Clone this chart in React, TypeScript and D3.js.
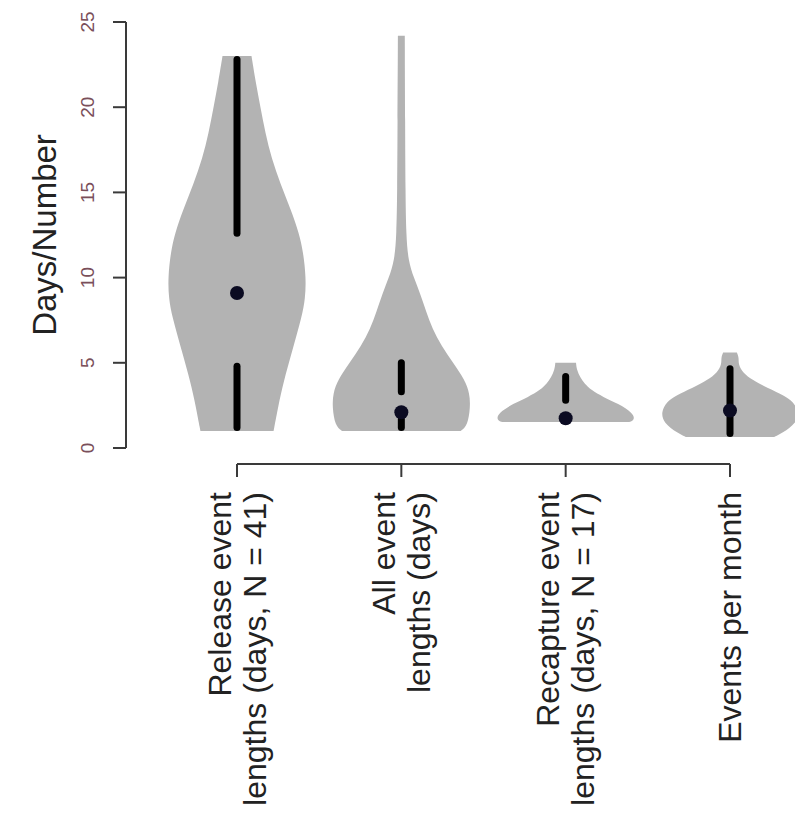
import React, { useEffect, useRef } from "react";
import * as d3 from "d3";

const categories = [
  ["Release event", "lengths (days, N = 41)"],
  ["All event", "lengths (days)"],
  ["Recapture event", "lengths (days, N = 17)"],
  ["Events per month"],
];

// violin outlines: [value, relative half width]
const releaseDensity = [
  [1.0, 0.53], [2.5, 0.6], [3.8, 0.67], [5.7, 0.8], [7.7, 0.94], [8.8, 0.99],
  [10.0, 1.0], [11.5, 0.96], [12.6, 0.9], [14.0, 0.78], [15.5, 0.63],
  [17.0, 0.5], [18.5, 0.41], [20.0, 0.34], [21.5, 0.27], [23.0, 0.21],
];
const allDensity = [
  [1.0, 0.86], [1.3, 0.96], [2.4, 1.0], [3.2, 0.99], [4.0, 0.92], [5.0, 0.75],
  [6.0, 0.58], [7.0, 0.45], [8.0, 0.36], [9.0, 0.28], [10.0, 0.18],
  [11.0, 0.1], [12.5, 0.07], [15.0, 0.06], [19.0, 0.055], [24.2, 0.05],
];
const recaptureDensity = [
  [1.52, 0.92], [1.64, 1.0], [2.05, 0.98], [2.6, 0.76], [3.0, 0.54],
  [3.4, 0.37], [3.8, 0.27], [4.15, 0.21], [4.6, 0.16], [5.0, 0.15],
];
const perMonthDensity = [
  [0.65, 0.64], [0.88, 0.76], [1.46, 0.96], [2.1, 1.0], [2.7, 0.92], [3.1, 0.78],
  [3.5, 0.55], [4.0, 0.32], [4.4, 0.19], [4.9, 0.12], [5.3, 0.13], [5.6, 0.1],
];
const densities = [releaseDensity, allDensity, recaptureDensity, perMonthDensity];

const lowerWhisker = [1.2, 1.2, 1.5, 0.85];
const q1 = [4.8, 1.7, 1.5, 1.85];
const medians = [9.1, 2.1, 1.75, 2.2];
const q3 = [12.6, 3.3, 2.8, 2.55];
const upperWhisker = [22.8, 5.0, 4.2, 4.65];

const yTicks = [0, 5, 10, 15, 20, 25];

export default function App() {
  const chartRef = useRef<SVGSVGElement>(null);

  useEffect(() => {
    if (!chartRef.current) return;
    const svg = d3.select(chartRef.current);
    svg.selectAll("*").remove();

    const font = "'Liberation Sans', Arial, Helvetica, sans-serif";
    const y = d3.scaleLinear().domain([0, 25]).range([448, 22]);
    const x = d3.scaleLinear().domain([1, 4]).range([237, 730]);
    const halfWidth = d3.scaleLinear().domain([0, 1]).range([0, 69]);

    // violins
    densities.forEach((dens, i) => {
      const cx = x(i + 1);
      const area = d3
        .area<number[]>()
        .y((d) => y(d[0]))
        .x0((d) => cx - halfWidth(d[1]))
        .x1((d) => cx + halfWidth(d[1]))
        .curve(d3.curveBasis);
      svg
        .append("path")
        .attr("d", area(dens as number[][]) as string)
        .attr("fill", "#b3b3b3");
    });

    // whiskers
    const segs: [number, number, number][] = [];
    categories.forEach((_, i) => {
      if (q1[i] > lowerWhisker[i]) segs.push([i + 1, lowerWhisker[i], q1[i]]);
      if (upperWhisker[i] > q3[i]) segs.push([i + 1, q3[i], upperWhisker[i]]);
    });
    svg
      .selectAll("line.whisker")
      .data(segs)
      .join("line")
      .attr("class", "whisker")
      .attr("x1", (d) => x(d[0]))
      .attr("x2", (d) => x(d[0]))
      .attr("y1", (d) => y(d[1]))
      .attr("y2", (d) => y(d[2]))
      .attr("stroke", "#000")
      .attr("stroke-width", 7)
      .attr("stroke-linecap", "round");

    // medians
    svg
      .selectAll("circle.median")
      .data(medians)
      .join("circle")
      .attr("class", "median")
      .attr("cx", (_, i) => x(i + 1))
      .attr("cy", (d) => y(d))
      .attr("r", 7)
      .attr("fill", "#0b0b22");

    // y axis
    const yAxis = svg.append("g").attr("transform", "translate(126,0)");
    yAxis
      .append("line")
      .attr("y1", y(0))
      .attr("y2", y(25))
      .attr("stroke", "#3a3a3a")
      .attr("stroke-width", 2);
    yTicks.forEach((t) => {
      yAxis
        .append("line")
        .attr("x1", -13)
        .attr("x2", 0)
        .attr("y1", y(t))
        .attr("y2", y(t))
        .attr("stroke", "#3a3a3a")
        .attr("stroke-width", 2);
      yAxis
        .append("text")
        .attr("transform", `translate(-39,${y(t)}) rotate(-90)`)
        .attr("text-anchor", "middle")
        .attr("dy", "0.35em")
        .attr("font-family", font)
        .attr("font-size", 19)
        .attr("fill", "#7a4f5a")
        .text(t);
    });

    svg
      .append("text")
      .attr("transform", `translate(44,${(y(0) + y(25)) / 2}) rotate(-90)`)
      .attr("text-anchor", "middle")
      .attr("dy", "0.35em")
      .attr("font-family", font)
      .attr("font-size", 33)
      .attr("fill", "#222")
      .text("Days/Number");

    // x axis
    const xAxis = svg.append("g").attr("transform", "translate(0,464)");
    xAxis
      .append("line")
      .attr("x1", x(1))
      .attr("x2", x(4))
      .attr("stroke", "#3a3a3a")
      .attr("stroke-width", 2);
    categories.forEach((lines, i) => {
      const cx = x(i + 1);
      xAxis
        .append("line")
        .attr("x1", cx)
        .attr("x2", cx)
        .attr("y1", 0)
        .attr("y2", 13)
        .attr("stroke", "#3a3a3a")
        .attr("stroke-width", 2);
      const lineGap = 35;
      lines.forEach((txt, j) => {
        const lx = cx + (j - (lines.length - 1) / 2) * lineGap;
        xAxis
          .append("text")
          .attr("transform", `translate(${lx},28) rotate(-90)`)
          .attr("text-anchor", "end")
          .attr("dy", "0.35em")
          .attr("font-family", font)
          .attr("font-size", 32)
          .attr("fill", "#222")
          .text(txt);
      });
    });
  }, []);

  return (
    <svg
      ref={chartRef}
      width={795}
      height={815}
      style={{ position: "absolute", left: 0, top: 0, background: "#fff" }}
    />
  );
}
